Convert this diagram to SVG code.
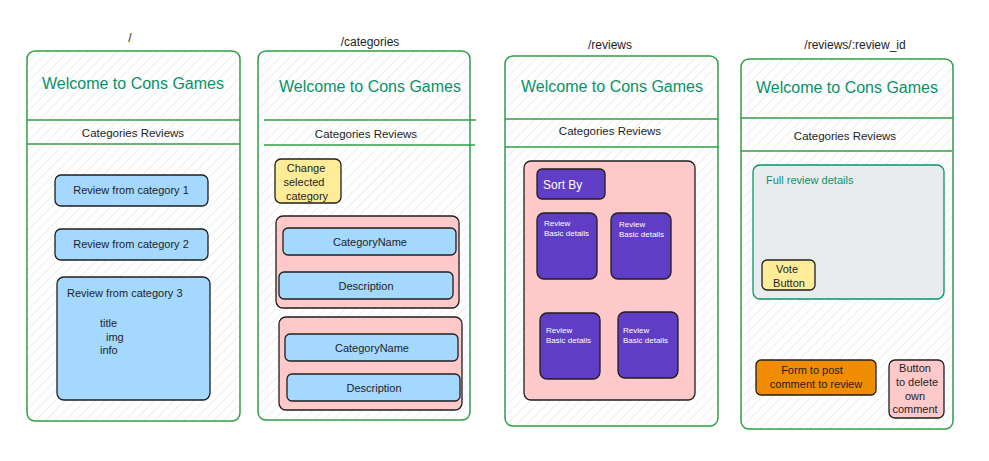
<svg xmlns="http://www.w3.org/2000/svg" width="989" height="461" viewBox="0 0 989 461">
<defs>
<pattern id="hatch" patternUnits="userSpaceOnUse" width="7" height="7" patternTransform="rotate(45)">
<line x1="0" y1="0" x2="0" y2="7" stroke="#e3e3e3" stroke-width="1.2"/>
</pattern>
<style>
.frame{fill:url(#hatch);stroke:#2f9e44;stroke-width:1.5}
.sep{stroke:#2f9e44;stroke-width:1.5}
.route{font-family:"Liberation Sans",sans-serif;font-size:12px;fill:#1e1e1e;text-anchor:middle}
.head{font-family:"Liberation Sans",sans-serif;font-size:16px;fill:#099268;text-anchor:middle}
.nav{font-family:"Liberation Sans",sans-serif;font-size:11.5px;fill:#1e1e1e;text-anchor:middle}
.blue{fill:#a5d8ff;stroke:#1e1e1e;stroke-width:1.3}
.pink{fill:#ffc9c9;stroke:#1e1e1e;stroke-width:1.3}
.yellow{fill:#ffec99;stroke:#1e1e1e;stroke-width:1.3}
.violet{fill:#5f3dc4;stroke:#1e1e1e;stroke-width:1.3}
.orange{fill:#f08c00;stroke:#1e1e1e;stroke-width:1.3}
.gray{fill:#e9ecef;stroke:#099268;stroke-width:1.3}
.t{font-family:"Liberation Sans",sans-serif;font-size:11px;fill:#1e1e1e}
.tc{font-family:"Liberation Sans",sans-serif;font-size:11px;fill:#1e1e1e;text-anchor:middle}
.tw{font-family:"Liberation Sans",sans-serif;font-size:8px;fill:#ffffff}
</style>
</defs>
<rect width="989" height="461" fill="#ffffff"/>

<g id="page-home">
<text class="route" x="130" y="42">/</text>
<rect class="frame" x="27" y="51" width="213" height="370" rx="8"/>
<text class="head" x="133" y="89">Welcome to Cons Games</text>
<line class="sep" x1="27" y1="120" x2="240" y2="120"/>
<line class="sep" x1="27" y1="144" x2="240" y2="144"/>
<text class="nav" x="133" y="137">Categories Reviews</text>
<g id="home-review1">
<rect class="blue" x="55" y="175" width="153" height="31" rx="6"/>
<text class="tc" x="131" y="194">Review from category 1</text>
</g>
<g id="home-review2">
<rect class="blue" x="55" y="229" width="153" height="31" rx="6"/>
<text class="tc" x="131" y="248">Review from category 2</text>
</g>
<g id="home-review3">
<rect class="blue" x="57" y="277" width="153" height="123" rx="7"/>
<text class="t" x="67" y="297">Review from category 3</text>
<text class="t" x="100" y="327">title</text>
<text class="t" x="106" y="341" font-size="9">img</text>
<text class="t" x="100" y="354" font-size="10">info</text>
</g>
</g>

<g id="page-categories">
<text class="route" x="370" y="46">/categories</text>
<rect class="frame" x="258" y="51" width="212" height="369" rx="8"/>
<text class="head" x="370" y="92">Welcome to Cons Games</text>
<line class="sep" x1="264" y1="120" x2="476" y2="120"/>
<line class="sep" x1="264" y1="145" x2="475" y2="145"/>
<text class="nav" x="366" y="138">Categories Reviews</text>
<g id="cat-change">
<rect class="yellow" x="275" y="159" width="66" height="44" rx="6"/>
<text class="tc" x="306" y="172">Change</text>
<text class="tc" x="304" y="186">selected</text>
<text class="tc" x="307" y="200">category</text>
</g>
<g id="cat-card1">
<rect class="pink" x="276" y="216" width="183" height="92" rx="7"/>
<rect class="blue" x="283" y="228" width="173" height="27" rx="5"/>
<text class="tc" x="370" y="246">CategoryName</text>
<rect class="blue" x="279" y="272" width="174" height="27" rx="5"/>
<text class="tc" x="366" y="290">Description</text>
</g>
<g id="cat-card2">
<rect class="pink" x="279" y="317" width="183" height="93" rx="7"/>
<rect class="blue" x="285" y="334" width="173" height="27" rx="5"/>
<text class="tc" x="372" y="352">CategoryName</text>
<rect class="blue" x="287" y="374" width="173" height="27" rx="5"/>
<text class="tc" x="374" y="392">Description</text>
</g>
</g>

<g id="page-reviews">
<text class="route" x="610" y="49">/reviews</text>
<rect class="frame" x="505" y="56" width="213" height="370" rx="8"/>
<text class="head" x="612" y="92">Welcome to Cons Games</text>
<line class="sep" x1="505" y1="119" x2="718" y2="119"/>
<line class="sep" x1="505" y1="147" x2="718" y2="147"/>
<text class="nav" x="610" y="135">Categories Reviews</text>
<g id="rev-list">
<rect class="pink" x="524" y="161" width="171" height="239" rx="7"/>
<g id="rev-sort">
<rect class="violet" x="537" y="169" width="68" height="30" rx="5"/>
<text x="543" y="189" font-family="Liberation Sans, sans-serif" font-size="12" fill="#ffffff">Sort By</text>
</g>
<g id="rev-card1">
<rect class="violet" x="537" y="213" width="60" height="66" rx="7"/>
<text class="tw" x="544" y="226">Review</text>
<text class="tw" x="544" y="236">Basic details</text>
</g>
<g id="rev-card2">
<rect class="violet" x="611" y="213" width="60" height="66" rx="7"/>
<text class="tw" x="619" y="227">Review</text>
<text class="tw" x="619" y="237">Basic details</text>
</g>
<g id="rev-card3">
<rect class="violet" x="540" y="313" width="60" height="66" rx="7"/>
<text class="tw" x="546" y="333">Review</text>
<text class="tw" x="546" y="343">Basic details</text>
</g>
<g id="rev-card4">
<rect class="violet" x="618" y="312" width="60" height="66" rx="7"/>
<text class="tw" x="623" y="333">Review</text>
<text class="tw" x="623" y="343">Basic details</text>
</g>
</g>
</g>

<g id="page-review-detail">
<text class="route" x="855" y="49">/reviews/:review_id</text>
<rect class="frame" x="741" y="59" width="212" height="370" rx="8"/>
<text class="head" x="847" y="93">Welcome to Cons Games</text>
<line class="sep" x1="741" y1="118" x2="953" y2="118"/>
<line class="sep" x1="741" y1="151" x2="952" y2="151"/>
<text class="nav" x="845" y="140">Categories Reviews</text>
<g id="detail-full">
<rect class="gray" x="753" y="165" width="191" height="134" rx="7"/>
<text x="766" y="184" font-family="Liberation Sans, sans-serif" font-size="11" fill="#099268">Full review details</text>
</g>
<g id="detail-vote">
<rect class="yellow" x="762" y="260" width="53" height="30" rx="5"/>
<text class="tc" x="787" y="273">Vote</text>
<text class="tc" x="789" y="287">Button</text>
</g>
<g id="detail-form">
<rect class="orange" x="756" y="360" width="120" height="35" rx="5"/>
<text class="tc" x="812" y="374">Form to post</text>
<text class="tc" x="816" y="388">comment to review</text>
</g>
<g id="detail-delete">
<rect class="pink" x="889" y="360" width="55" height="58" rx="6"/>
<text class="tc" x="915" y="372">Button</text>
<text class="tc" x="917" y="386">to delete</text>
<text class="tc" x="915" y="400" font-size="9">own</text>
<text class="tc" x="915" y="413" font-size="10">comment</text>
</g>
</g>
</svg>
